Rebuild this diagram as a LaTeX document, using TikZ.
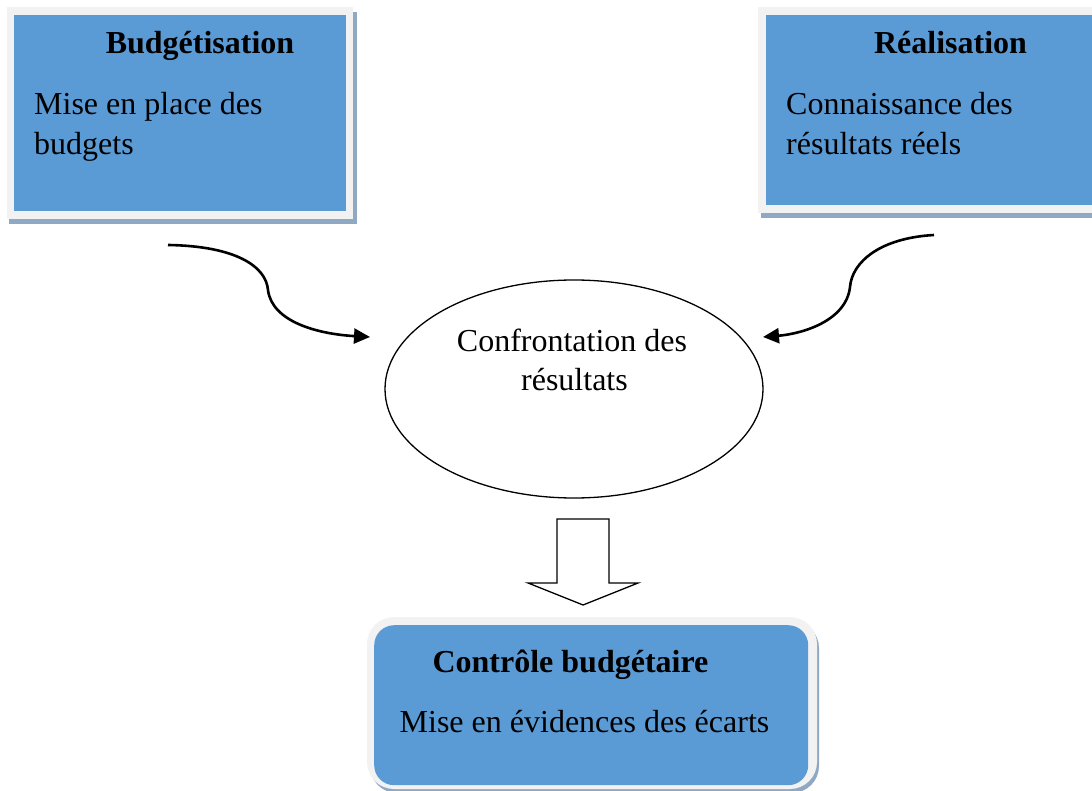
\documentclass[tikz,border=0pt]{standalone}
\usepackage{fontspec}
\setmainfont{Liberation Serif}
\usetikzlibrary{arrows.meta,shapes.geometric}
\definecolor{boxblue}{HTML}{5B9BD5}
\definecolor{framegrey}{HTML}{F2F2F2}
\definecolor{shadowc}{HTML}{8FA9C4}
\tikzset{
  txt/.style={inner sep=0pt,font=\fontsize{32}{40}\selectfont},
  ttl/.style={inner sep=0pt,font=\fontsize{32}{40}\selectfont\bfseries},
  curvearrow/.style={line width=2.6pt,-{Triangle[length=16pt,width=15pt]}},
  fillbox/.style={inner sep=0pt,draw=none},
}
\begin{document}
\begin{tikzpicture}[x=1pt,y=-1pt]
\useasboundingbox (0,0) rectangle (1092,791);
% left box
\fill[shadowc] (9,12) rectangle (357,224);
\fill[framegrey] (7,7) rectangle (353,219);
\node[fillbox,fill=boxblue,minimum width=332pt,minimum height=196pt,anchor=north west] (bud) at (14,15) {};
\node[ttl,anchor=base] (budt) at (200,54) {Budgétisation};
\node[txt,anchor=base west] (bud1) at (34,115) {Mise en place des};
\node[txt,anchor=base west] (bud2) at (34,155) {budgets};
% right box
\fill[shadowc] (761,12) rectangle (1092,218);
\fill[framegrey] (758,7) rectangle (1092,213);
\node[fillbox,fill=boxblue,minimum width=326pt,minimum height=190pt,anchor=north west] (rea) at (766,15) {};
\node[ttl,anchor=base] (reat) at (950.5,54) {Réalisation};
\node[txt,anchor=base west] (rea1) at (786,115) {Connaissance des};
\node[txt,anchor=base west] (rea2) at (786,155) {résultats réels};
% ellipse
\node[ellipse,draw=black,line width=1.3pt,minimum width=378pt,minimum height=218pt,inner sep=0pt] (conf) at (574,389) {};
\node[txt,anchor=base] (conf1) at (572,352) {Confrontation des};
\node[txt,anchor=base] (conf2) at (574.5,391) {résultats};
% curved arrows
\coordinate (ls) at (168,245);
\coordinate (lt) at (370,337);
\coordinate (rs) at (934,235);
\coordinate (rt) at (763,337);
\draw[curvearrow] (ls) .. controls (235,246) and (266,266) .. (268,290)
  .. controls (272,322) and (318,334) .. (lt);
\draw[curvearrow] (rs) .. controls (880,238) and (852,262) .. (850,287)
  .. controls (846,322) and (800,334) .. (rt);
% block arrow
\draw[line width=1.3pt,fill=white,line join=miter] (557,519) -- (609,519) -- (609,583) -- (638,583) -- (583,605) -- (528,583) -- (557,583) -- cycle;
% bottom box
\fill[shadowc,rounded corners=27pt] (370,621) rectangle (819,793);
\fill[framegrey,rounded corners=27pt] (367,617) rectangle (817,789);
\node[fillbox,fill=boxblue,rounded corners=20pt,minimum width=434pt,minimum height=160pt,anchor=north west] (ctrl) at (374,625) {};
\node[ttl,anchor=base] (ctrlt) at (570.5,672) {Contrôle budgétaire};
\node[txt,anchor=base] (ctrl1) at (584.5,732) {Mise en évidences des écarts};
\end{tikzpicture}
\end{document}
